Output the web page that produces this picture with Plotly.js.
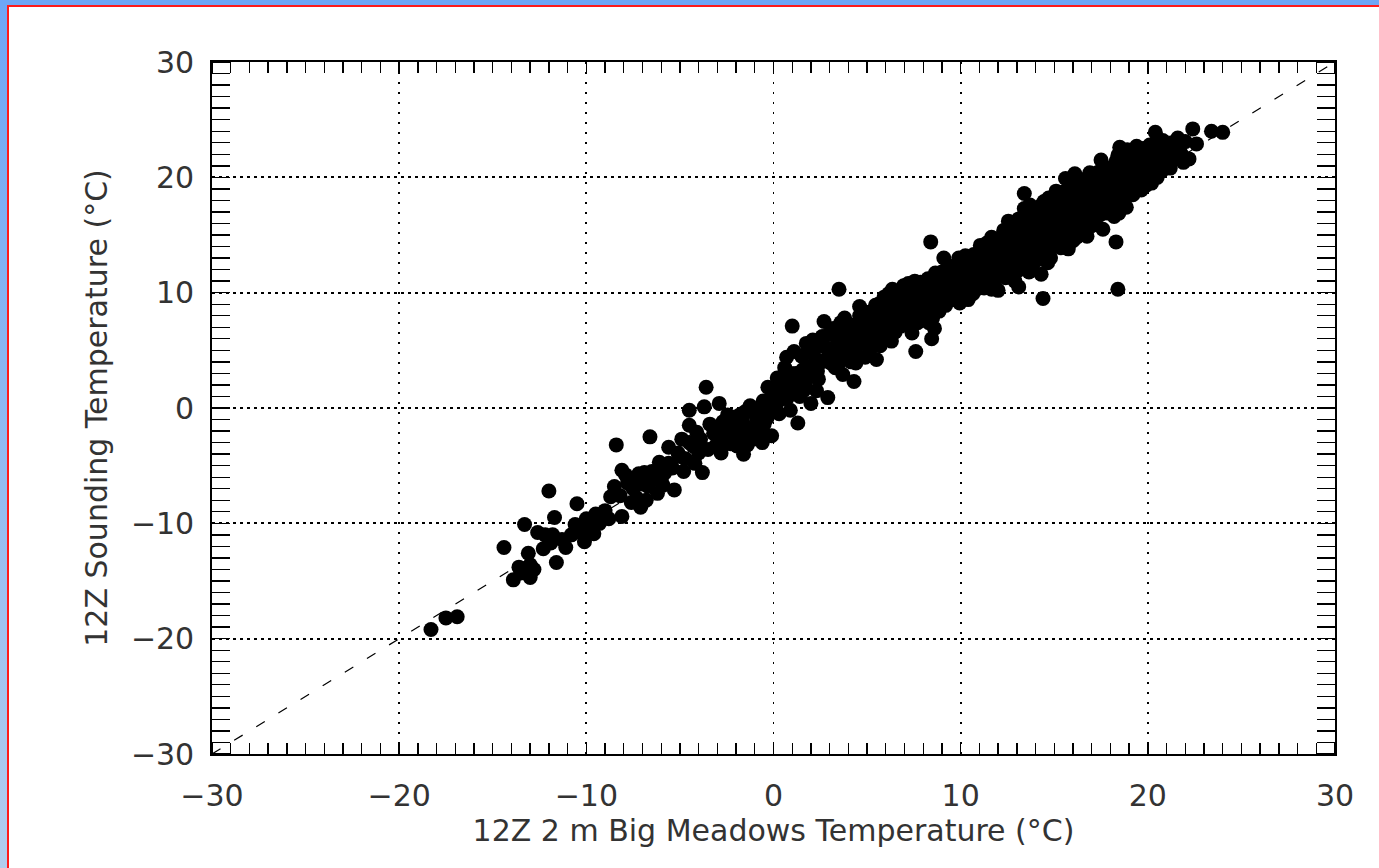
<!DOCTYPE html>
<html>
<head>
<meta charset="utf-8">
<script src="https://cdn.plot.ly/plotly-3.0.1.min.js"></script>
<style>
  html, body { margin: 0; padding: 0; background: #ffffff; overflow: hidden; }
  #chart { width: 1379px; height: 868px; position: absolute; left: 0; top: 0; }
  .frameL { position: absolute; left: 0; top: 0; width: 7px; height: 868px;
            background: linear-gradient(#6ea6f5, #b2cdee); }
  .frameT { position: absolute; left: 0; top: 0; width: 1379px; height: 5px; background: #6ea6f5; }
  .redL { position: absolute; left: 7px; top: 5px; width: 2px; height: 863px; background: #ff1a1a; }
  .redT { position: absolute; left: 7px; top: 5px; width: 1372px; height: 2px; background: #ff1a1a; }
</style>
</head>
<body>
<div id="chart"></div>
<div class="frameL"></div><div class="frameT"></div><div class="redL"></div><div class="redT"></div>
<script>
// Axis ticks
const xTicks = [-30, -20, -10, 0, 10, 20, 30];
const yTicks = [-30, -20, -10, 0, 10, 20, 30];
const xTickText = ["\u221230", "\u221220", "\u221210", "0", "10", "20", "30"];
const yTickText = ["\u221230", "\u221220", "\u221210", "0", "10", "20", "30"];
const oneToOneX = [-30, 30];
const oneToOneY = [-30, 30];

// [Big Meadows 2 m temperature, sounding temperature] pairs (deg C)
const coldTail = [
  [-18.3,-19.2],[-17.5,-18.2],[-16.9,-18.1],
  [-14.4,-12.1],[-13.9,-14.9],[-13.0,-14.7],[-13.1,-12.6],[-13.3,-10.1],[-12.6,-10.8],
  [-12.0,-7.2],[-11.7,-9.5],[-11.9,-11.7],[-11.6,-13.4],[-11.3,-11.4],[-10.5,-8.3],
  [-10.6,-10.1],[-10.3,-10.8],[-9.9,-10.3],[-9.3,-10.0],[-9.0,-8.9],[-8.7,-7.7],
  [-13.6,-13.8],[-13.0,-13.6],[-12.8,-14.0],[-12.2,-11.0],[-11.8,-11.0],
  [-8.8,-9.6],[-9.6,-10.9],[-10.1,-11.6],[-10.8,-11.0],[-11.1,-12.1],[-12.3,-12.2],
  [-12.9,-13.9],[-13.5,-14.3],[-10.0,-9.6],[-9.5,-9.2]
];
const coolCluster = [
  [-8.4,-3.2],[-8.1,-5.4],[-8.1,-9.4],[-7.8,-6.5],[-7.2,-5.7],[-7.1,-8.6],[-6.6,-2.5],
  [-6.7,-6.8],[-6.0,-6.2],[-5.6,-3.4],[-5.3,-7.1],[-5.6,-4.8],[-4.5,-3.0],[-4.5,-1.5],
  [-4.5,-0.2],[-3.7,0.1],[-4.2,-4.8],[-3.5,-3.6],[-3.2,-2.2],[-3.8,-5.6],[-3.6,1.8],
  [-7.5,-7.0],[-7.0,-6.6],[-6.5,-5.5],[-6.2,-7.4],[-5.8,-5.6],[-5.0,-4.2],[-4.8,-5.5],
  [-4.0,-3.9],[-3.9,-2.7],[-7.6,-8.2],[-6.8,-8.0],
  [-8.5,-6.8],[-8.2,-7.6],[-7.9,-5.8],[-7.4,-6.2],[-7.3,-7.8],[-6.9,-5.6],[-6.4,-6.2],
  [-6.1,-4.7],[-5.9,-6.7],[-5.4,-5.2],[-5.1,-3.9],[-4.9,-2.7],[-4.7,-4.4],[-4.3,-3.3],
  [-4.1,-2.1],[-3.4,-1.4],[-3.1,-3.3],
  [-2.9,0.4],[-2.7,-1.2],[-2.5,-2.0],[-2.3,-3.1],[-2.8,-3.9],[-2.2,-0.8],[-2.6,-2.6],
  [-1.9,-1.5],[-1.7,-2.4],[-1.5,-0.3],[-1.4,-3.2],[-1.2,-1.8],[-1.8,-0.6],[-1.1,-2.7],[-1.6,-4.0],
  [-0.9,-0.9],[-0.7,-2.1],[-0.5,-1.4],[-0.3,1.8],[-0.2,-0.4],[-0.6,-3.0],[-0.1,-2.4],[-0.4,0.3],
  [-2.95,-1.8],[-2.75,-2.9],[-2.45,-0.6],[-2.15,-2.2],[-1.95,-3.3],[-1.65,-1.2],[-1.35,-2.0],
  [-1.05,-0.4],[-0.85,-1.9],[-0.55,0.6],[-0.35,-0.9],[-0.15,0.8],[-2.35,-1.5],[-1.25,0.2],[-0.75,-0.2]
];
const midBand = [
  [0.1,1.5],[0.3,-0.5],[0.5,0.8],[0.7,4.4],[0.8,2.0],[0.2,2.6],[0.9,-0.2],[0.6,3.5],
  [1.0,7.1],[1.3,-1.3],[1.2,3.0],[1.5,4.5],[1.7,2.2],[1.4,1.0],[1.9,5.0],[1.8,3.6],[1.1,4.9],
  [2.7,7.5],[2.9,0.9],[2.2,3.8],[2.5,5.5],[2.8,4.2],[2.4,2.5],[2.1,5.9],[2.6,6.2],[2.3,1.5],
  [0.15,0.3],[0.35,1.9],[0.55,2.7],[0.75,0.9],[0.95,3.0],[1.15,1.9],[1.35,2.6],[1.55,3.3],
  [1.75,5.6],[1.95,2.9],[2.15,4.6],[2.35,3.2],[2.55,4.0],[2.75,5.3],[2.95,6.4],[1.6,1.5],[2.0,0.4],
  [3.5,10.3],[3.8,7.8],[3.1,5.0],[3.3,3.5],[3.6,6.3],[3.9,4.6],[3.2,6.9],[3.7,2.9],[3.4,5.6],
  [4.3,2.3],[4.1,7.2],[4.5,5.9],[4.7,6.8],[4.9,4.4],[4.2,5.1],[4.6,8.0],[4.8,7.3],[4.4,3.9],
  [5.1,6.6],[5.4,7.5],[5.7,5.4],[5.3,8.4],[5.8,7.0],[5.5,4.2],[5.2,5.9],[5.9,8.1],[5.6,9.0],
  [3.05,3.9],[3.45,4.7],[4.05,6.1],[4.35,4.8],[4.65,7.4],[5.05,7.8],[5.35,6.5],[5.65,8.0],[5.95,6.2],
  [3.15,4.3],[3.35,6.2],[3.55,4.0],[3.75,5.4],[3.95,7.0],[4.15,4.0],[4.45,6.6],[4.75,5.6],
  [4.95,8.3],[5.15,5.1],[5.45,8.9],[5.75,6.5],[5.9,9.6],[4.6,8.8],[3.6,7.4],
  [6.1,7.4],[6.4,9.5],[6.7,8.2],[6.3,5.8],[6.9,9.8],[6.5,6.6],[6.2,8.8],[6.8,7.1],[6.6,10.1],[6.0,6.9],
  [7.1,9.6],[7.3,8.5],[7.5,10.3],[7.7,7.4],[7.9,9.1],[7.2,10.8],[7.4,6.5],[7.6,4.9],[7.8,8.0],[7.0,8.9],
  [8.4,14.4],[8.1,10.5],[8.3,9.3],[8.5,7.8],[8.7,10.9],[8.9,9.7],[8.2,8.6],[8.6,6.9],[8.8,11.4],[8.0,9.9],[8.45,6.0],
  [6.15,9.9],[6.45,8.1],[6.75,9.0],[7.05,10.2],[7.35,9.4],[7.65,9.9],[7.95,10.6],[8.25,11.2],[8.55,9.1],[8.85,8.4],[8.15,9.5],
  [6.05,8.0],[6.25,7.0],[6.35,10.3],[6.55,9.0],[6.85,8.5],[6.95,10.6],[7.15,8.0],[7.25,7.2],
  [7.45,8.9],[7.55,11.0],[7.75,9.5],[7.85,10.9],[8.05,8.2],[8.35,10.2],[8.65,11.7],[8.75,9.2],
  [8.95,10.4],[7.5,7.7],[8.3,7.4],[6.6,7.6]
];
const warmBand = [
  [9.1,13.0],[9.3,10.2],[9.5,11.6],[9.7,9.4],[9.9,10.8],[9.2,8.9],[9.6,12.3],[9.4,9.9],[9.8,11.1],[9.0,11.8],[9.95,9.1],
  [9.15,10.6],[9.55,10.4],[9.85,12.0],[9.35,11.3],[9.65,10.0],
  [9.05,9.4],[9.25,12.0],[9.45,10.7],[9.75,11.6],[9.9,13.0],
  [10.7,13.3],[10.1,10.5],[10.3,11.9],[10.5,9.8],[10.9,12.4],[10.2,12.8],[10.6,10.9],[10.8,11.5],[10.4,9.4],[10.0,11.2],[10.65,12.1],[10.35,10.3],
  [10.15,11.6],[10.55,11.3],[10.85,10.3],[10.25,10.0],[10.75,12.9],[10.45,12.5],
  [10.05,12.3],[10.25,13.2],[10.45,11.0],[10.65,9.9],[10.95,11.3],
  [11.1,12.0],[11.3,13.5],[11.5,10.6],[11.7,12.7],[11.9,14.0],[11.2,11.1],[11.6,11.9],[11.4,14.3],[11.8,10.9],[11.0,13.0],[11.45,12.5],[11.75,13.4],
  [11.15,12.7],[11.55,13.1],[11.85,12.2],[11.25,10.4],[11.65,14.8],[11.35,11.6],
  [11.05,14.1],[11.25,12.2],[11.45,13.9],[11.65,10.3],[11.95,11.5],
  [12.3,15.4],[12.1,12.6],[12.5,13.8],[12.7,11.7],[12.9,14.5],[12.2,13.2],[12.6,15.0],[12.8,12.4],[12.4,11.3],[12.0,14.7],[12.55,16.2],[12.85,13.6],[12.35,12.0],
  [12.15,13.9],[12.45,14.6],[12.75,13.1],[12.25,11.6],[12.65,12.9],[12.95,15.5],
  [12.05,12.0],[12.25,14.6],[12.45,12.8],[12.65,16.0],[12.9,11.0],[12.0,10.2],
  [13.4,18.6],[13.4,17.3],[13.1,10.5],[13.2,14.1],[13.5,15.6],[13.7,13.2],[13.9,16.4],[13.3,12.5],[13.6,14.8],[13.8,15.9],[13.0,13.4],[13.55,12.2],[13.25,15.9],[13.85,14.0],
  [13.15,15.0],[13.45,13.7],[13.75,16.9],[13.35,16.5],[13.65,11.8],[13.95,15.1],[13.05,11.9],
  [13.1,16.4],[13.3,13.8],[13.5,14.4],[13.7,17.6],[13.9,12.6],
  [14.4,9.5],[14.1,15.1],[14.3,16.8],[14.5,13.9],[14.7,15.5],[14.9,17.4],[14.2,14.3],[14.6,16.1],[14.8,13.0],[14.0,17.0],[14.45,17.9],[14.75,14.6],[14.15,12.9],[14.95,15.9],
  [14.05,14.0],[14.35,15.4],[14.65,12.6],[14.25,17.5],[14.55,15.0],[14.85,16.6],[14.3,11.6],
  [14.1,16.2],[14.3,13.7],[14.5,16.9],[14.7,18.2],[14.9,14.2]
];
const hotBand = [
  [15.1,16.3],[15.3,18.2],[15.5,14.7],[15.7,17.1],[15.9,19.3],[15.2,15.4],[15.6,19.9],[15.8,15.8],[15.4,16.9],[15.0,14.0],[15.45,18.7],[15.75,13.8],[15.25,17.6],[15.95,17.9],
  [15.05,15.2],[15.35,16.0],[15.65,18.3],[15.15,17.2],[15.55,16.3],[15.85,16.8],[15.35,13.9],
  [15.1,18.8],[15.3,15.0],[15.5,17.6],[15.7,15.1],[15.9,16.2],[16.0,14.5],
  [16.1,17.4],[16.3,19.6],[16.5,15.6],[16.7,18.3],[16.9,16.6],[16.2,14.8],[16.6,19.1],[16.8,20.0],[16.4,17.0],[16.0,16.0],[16.45,18.6],[16.75,14.9],[16.25,18.0],[16.95,19.0],
  [16.05,17.7],[16.35,16.2],[16.65,17.3],[16.15,19.0],[16.55,16.5],[16.85,17.8],[16.3,15.3],
  [16.1,20.3],[16.3,17.6],[16.5,18.0],[16.7,16.0],[16.9,20.4],[17.0,15.8],
  [17.1,18.4],[17.3,20.4],[17.5,16.8],[17.7,19.5],[17.9,17.6],[17.2,15.9],[17.6,21.0],[17.8,18.8],[17.4,19.0],[17.0,17.1],[17.45,17.9],[17.75,20.6],[17.25,16.5],[17.95,19.9],
  [17.05,18.0],[17.35,17.3],[17.65,18.2],[17.15,19.7],[17.55,20.0],[17.85,16.9],[17.6,15.5],
  [17.1,16.7],[17.3,18.9],[17.5,21.5],[17.7,17.1],[17.9,20.7],
  [18.3,14.4],[18.4,10.3],[18.4,21.9],[18.1,19.1],[18.5,17.8],[18.7,20.3],[18.9,18.5],[18.2,16.6],[18.6,21.2],[18.8,19.6],[18.0,20.6],[18.45,16.9],[18.75,22.1],[18.25,18.1],[18.95,21.0],
  [18.05,18.3],[18.35,19.8],[18.65,18.7],[18.15,20.9],[18.55,19.4],[18.85,17.4],[18.5,22.6],
  [18.1,17.5],[18.3,21.4],[18.5,20.4],[18.7,19.0],[18.9,22.4],
  [19.1,20.7],[19.3,19.1],[19.5,22.0],[19.7,20.2],[19.9,21.6],[19.2,18.5],[19.6,21.0],[19.8,19.7],[19.4,22.7],[19.0,19.9],[19.45,20.0],[19.75,22.5],[19.25,21.5],
  [19.05,21.0],[19.35,20.4],[19.65,18.9],[19.15,22.3],[19.55,19.6],[19.85,20.8],
  [19.1,18.7],[19.3,21.9],[19.5,20.9],[19.7,21.7],[19.9,19.3],
  [20.4,23.9],[20.1,21.2],[20.3,20.2],[20.5,22.4],[20.7,21.5],[20.9,22.8],[20.2,19.5],[20.6,20.6],[20.8,23.2],[20.0,22.1],[20.45,21.0],[20.95,21.4],
  [20.05,20.4],[20.35,22.6],[20.65,22.0],[20.25,21.7],[20.55,23.0],[20.85,20.7],
  [20.1,22.8],[20.3,21.4],[20.5,20.0],[20.7,22.6],[20.9,21.9],
  [21.3,23.0],[21.1,22.0],[21.5,21.6],[21.7,22.6],[21.9,21.3],[21.2,20.8],[21.6,23.4],[21.4,22.2],
  [21.15,21.5],[21.35,22.5],[21.55,22.3],[21.8,22.0],
  [22.0,23.1],[22.2,21.6],[22.4,24.2],[23.4,24.0],[24.0,23.9],[22.6,22.9]
];

const allPoints = coldTail.concat(coolCluster, midBand, warmBand, hotBand);
const ptsX = allPoints.map(p => p[0]);
const ptsY = allPoints.map(p => p[1]);

const FONT = "DejaVu Sans, sans-serif";
const TXT = "#333333";

const traces = [
  {
    x: oneToOneX, y: oneToOneY, type: "scatter", mode: "lines",
    line: { color: "#000", width: 1.2, dash: "10px,16px" },
    hoverinfo: "skip", showlegend: false
  },
  {
    x: ptsX, y: ptsY, type: "scatter", mode: "markers",
    marker: { color: "#000", size: 15, line: { width: 0 } },
    showlegend: false
  }
];

const layout = {
  width: 1379, height: 868,
  margin: { l: 212, r: 44, t: 62, b: 114 },
  paper_bgcolor: "rgba(0,0,0,0)",
  plot_bgcolor: "#ffffff",
  font: { family: FONT, color: TXT, size: 30 },
  showlegend: false,
  xaxis: {
    range: [-30, 30], tickvals: xTicks, ticktext: xTickText,
    ticks: "", ticklabelstandoff: 14,
    showgrid: true, gridcolor: "#000", gridwidth: 1.8, griddash: "2px,8px",
    zeroline: false, showline: true, linecolor: "#000", linewidth: 1.8, mirror: "allticks",
    tickfont: { family: FONT, size: 30, color: TXT },
    minor: { dtick: 1, tick0: 0, ticks: "inside", ticklen: 11, tickwidth: 1.4, tickcolor: "#000", showgrid: false },
    title: { text: "12Z 2 m Big Meadows Temperature (\u00B0C)", font: { family: FONT, size: 30, color: TXT }, standoff: 8 }
  },
  yaxis: {
    range: [-30, 30], tickvals: yTicks, ticktext: yTickText,
    ticks: "", ticklabelstandoff: 10,
    showgrid: true, gridcolor: "#000", gridwidth: 1.8, griddash: "3px,4px",
    zeroline: false, showline: true, linecolor: "#000", linewidth: 1.8, mirror: "allticks",
    tickfont: { family: FONT, size: 30, color: TXT },
    minor: { dtick: 1, tick0: 0, ticks: "inside", ticklen: 18, tickwidth: 1.4, tickcolor: "#000", showgrid: false },
    title: { text: "12Z Sounding Temperature (\u00B0C)", font: { family: FONT, size: 30, color: TXT }, standoff: 14 }
  }
};

Plotly.newPlot("chart", traces, layout, { displayModeBar: false, staticPlot: true });
</script>
</body>
</html>
